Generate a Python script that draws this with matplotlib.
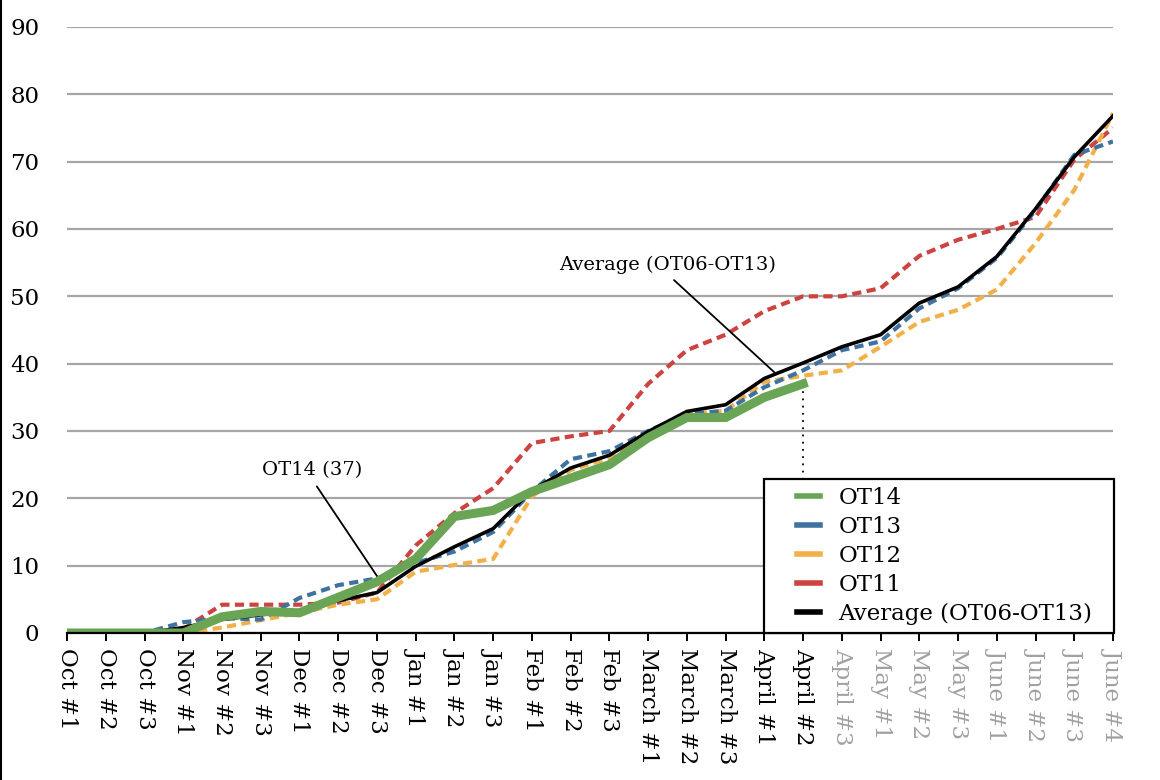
import matplotlib
matplotlib.use('Agg')
import matplotlib.pyplot as plt
import numpy as np
from matplotlib.lines import Line2D
from matplotlib.legend_handler import HandlerLine2D

plt.rcParams['font.family'] = ['DejaVu Serif']

# x categories (weeks)
categories = ['Oct #1', 'Oct #2', 'Oct #3', 'Nov #1', 'Nov #2', 'Nov #3',
              'Dec #1', 'Dec #2', 'Dec #3', 'Jan #1', 'Jan #2', 'Jan #3',
              'Feb #1', 'Feb #2', 'Feb #3', 'March #1', 'March #2', 'March #3',
              'April #1', 'April #2', 'April #3', 'May #1', 'May #2', 'May #3',
              'June #1', 'June #2', 'June #3', 'June #4']
n_done = 20  # weeks so far (up to April #2)

ot14 = [0, 0, 0, 0, 2.4, 3.2, 3, 5.3, 7.6, 11, 17.3, 18.2, 21, 23, 25, 29, 32, 32, 35, 37]
ot13 = [0, 0, 0, 1.6, 2.2, 2, 5.2, 7.1, 8.1, 10.4, 12.1, 15, 21, 25.8, 27, 30, 32.5, 33,
        36.5, 39, 42, 43.3, 48.2, 51.2, 55.7, 62.8, 71, 73]
ot12 = [0, 0, 0, 0, 0.8, 1.9, 3, 4.2, 5, 9.1, 10.1, 11, 20.3, 24.2, 26, 29.3, 32.5, 33,
        37.3, 38.2, 39, 42.5, 46.2, 48, 51, 57.9, 65.8, 77.2]
ot11 = [0, 0, 0, 0.6, 4.2, 4.2, 4.2, 4.5, 6, 13, 17.8, 21.5, 28.2, 29.2, 30, 37, 42, 44.3,
        47.8, 50, 50, 51.2, 56, 58.4, 60, 61.8, 70.3, 75]
average = [0, 0, 0, 0.8, 2, 2.7, 3.3, 4.8, 6, 9.9, 12.8, 15.5, 21.2, 24.5, 26.4, 29.9, 32.9,
           33.9, 37.8, 40.1, 42.5, 44.3, 49, 51.4, 55.9, 63, 70.7, 76.8]

green = '#6aa556'
blue = '#3f72a0'
orange = '#f2b04a'
red = '#cc4340'


# legend handle: short line sitting in the right half of the handle box
class ShortLine(HandlerLine2D):
    def create_artists(self, legend, orig_handle, xdescent, ydescent, width, height,
                       fontsize, trans):
        arts = super().create_artists(legend, orig_handle, xdescent, ydescent, width,
                                      height, fontsize, trans)
        for a in arts:
            xd = np.asarray(a.get_xdata(), dtype=float)
            if len(xd) >= 2:
                start = xd[0] + 0.52 * (xd[-1] - xd[0])
                a.set_xdata(np.linspace(start, xd[-1], len(xd)))
        return arts


fig = plt.figure(figsize=(11.6, 7.8), dpi=100)
ax = fig.add_axes([0.0578, 0.1885, 0.9017, 0.7769])

x = list(range(len(categories)))
dash = (2.2, 1.3)
ax.plot(x, ot11, color=red, lw=3, linestyle=(0, dash), zorder=3)
ax.plot(x, ot12, color=orange, lw=3, linestyle=(0, dash), zorder=3)
ax.plot(x, ot13, color=blue, lw=3, linestyle=(0, dash), zorder=3)
ax.plot(x, average, color='black', lw=2.6, zorder=4)
ax.plot(x[:n_done], ot14, color=green, lw=6.5, zorder=5, solid_joinstyle='miter')

# dotted drop line from the current OT14 value
ax.plot([x[n_done - 1], x[n_done - 1]], [ot14[-1], 0], color='black', lw=1.3,
        linestyle=(0, (1, 3)), zorder=2)

ax.set_xlim(0, len(categories) - 1)
ax.set_ylim(0, 90)
ax.set_yticks(range(0, 91, 10))
ax.yaxis.grid(True, color='#a6a6a6', lw=1.6)
ax.set_axisbelow(True)
ax.tick_params(axis='y', length=0, pad=20, labelsize=16.5)
for s in ['left', 'right', 'top']:
    ax.spines[s].set_visible(False)
ax.spines['bottom'].set_linewidth(1.6)
ax.spines['bottom'].set_zorder(6)

ax.set_xticks(x)
ax.set_xticklabels(categories, rotation=270, ha='center', va='top', fontsize=16.5)
ax.tick_params(axis='x', direction='out', length=6, width=1.4, pad=5)
for i, lab in enumerate(ax.get_xticklabels()):
    if i >= n_done:
        lab.set_color('#a0a0a0')

ax.annotate('OT14 (37)', xy=(8.1, 7.6), xytext=(6.32, 24.2), ha='center', va='center',
            fontsize=14, arrowprops=dict(arrowstyle='-', color='black', lw=1.3,
                                         relpos=(0.5, 0), shrinkA=4, shrinkB=0))
ax.annotate('Average (OT06-OT13)', xy=(18.28, 38.6), xytext=(15.51, 54.6), ha='center',
            va='center', fontsize=14,
            arrowprops=dict(arrowstyle='-', color='black', lw=1.3,
                            relpos=(0.5, 0), shrinkA=3, shrinkB=0))

handles = [Line2D([], [], color=green, lw=4),
           Line2D([], [], color=blue, lw=4),
           Line2D([], [], color=orange, lw=4),
           Line2D([], [], color=red, lw=4),
           Line2D([], [], color='black', lw=4)]
labels = ['OT14', 'OT13', 'OT12', 'OT11', 'Average (OT06-OT13)']
leg = ax.legend(handles, labels, loc='lower left', bbox_to_anchor=(0.6663, 0, 0.3346, 0.3),
                mode='expand', borderaxespad=0, fontsize=16.5, frameon=True, fancybox=False,
                framealpha=1, edgecolor='black', handlelength=2.1, handletextpad=0.8,
                labelspacing=0.3, borderpad=0.35,
                handler_map={Line2D: ShortLine()})
leg.get_frame().set_linewidth(1.6)
leg.set_zorder(10)

fig.add_artist(Line2D([0.001, 0.001], [0, 1], color='black', lw=1.5))

fig.savefig('out.png', dpi=100, facecolor='white')
